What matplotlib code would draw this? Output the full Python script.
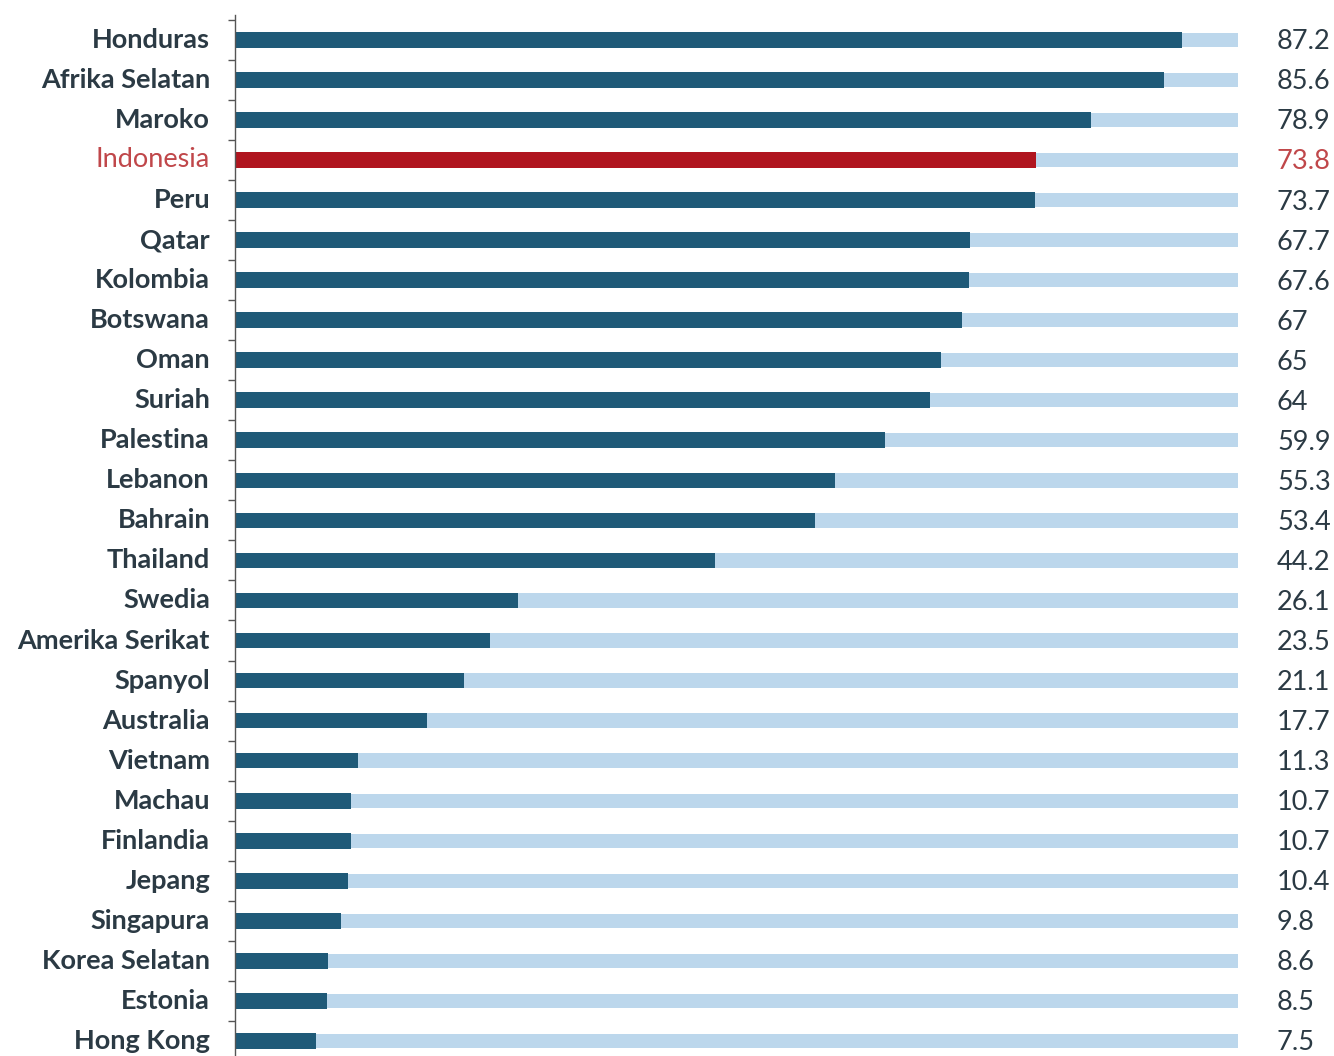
import matplotlib
matplotlib.use("Agg")
import matplotlib.pyplot as plt
from matplotlib.transforms import blended_transform_factory

countries = ["Honduras", "Afrika Selatan", "Maroko", "Indonesia", "Peru", "Qatar",
             "Kolombia", "Botswana", "Oman", "Suriah", "Palestina", "Lebanon",
             "Bahrain", "Thailand", "Swedia", "Amerika Serikat", "Spanyol",
             "Australia", "Vietnam", "Machau", "Finlandia", "Jepang", "Singapura",
             "Korea Selatan", "Estonia", "Hong Kong"]
values = [87.2, 85.6, 78.9, 73.8, 73.7, 67.7, 67.6, 67, 65, 64, 59.9, 55.3,
          53.4, 44.2, 26.1, 23.5, 21.1, 17.7, 11.3, 10.7, 10.7, 10.4, 9.8,
          8.6, 8.5, 7.5]
value_labels = ["87.2", "85.6", "78.9", "73.8", "73.7", "67.7", "67.6", "67",
                "65", "64", "59.9", "55.3", "53.4", "44.2", "26.1", "23.5",
                "21.1", "17.7", "11.3", "10.7", "10.7", "10.4", "9.8", "8.6",
                "8.5", "7.5"]
highlight = "Indonesia"
track_max = 92.4

dark = "#1f5a78"
red = "#b0151f"
light = "#bcd7ec"
text_dark = "#2b3a44"
text_red = "#c0474a"

W, H = 1334, 1056
fig = plt.figure(figsize=(W / 100, H / 100), dpi=100)
fig.patch.set_facecolor("white")
ax = fig.add_axes([235 / W, 0.0, (1238 - 235) / W, (H - 15) / H])

n = len(countries)
ys = list(range(n))
bar_h = 0.39

ax.barh(ys, [track_max] * n, height=bar_h * 0.92, color=light, zorder=1)
colors = [red if c == highlight else dark for c in countries]
ax.barh(ys, values, height=bar_h, color=colors, zorder=2)

ax.set_xlim(0, track_max)
ax.set_ylim(n - 1 + 0.375, -0.62)

for s in ["top", "right", "bottom"]:
    ax.spines[s].set_visible(False)
ax.spines["left"].set_color("#555555")
ax.spines["left"].set_linewidth(1.0)
ax.set_xticks([])
ax.set_yticks([i - 0.5 for i in range(n)])
ax.set_yticklabels([])
ax.tick_params(axis="y", length=5, width=1, color="#555555", direction="out")

font = "Lato"
tr = blended_transform_factory(fig.transFigure, ax.transData)
for i, (c, lab) in enumerate(zip(countries, value_labels)):
    col = text_red if c == highlight else text_dark
    weight = "normal" if c == highlight else "bold"
    ax.text(210 / W, i, c, transform=tr, ha="right", va="center",
            fontsize=19.5, family=font, weight=weight, color=col)
    ax.text(1277 / W, i + 0.05, lab, transform=tr, ha="left", va="center",
            fontsize=19.5, family=font, weight="normal", color=col)

fig.savefig("out.png", dpi=100, facecolor="white")
